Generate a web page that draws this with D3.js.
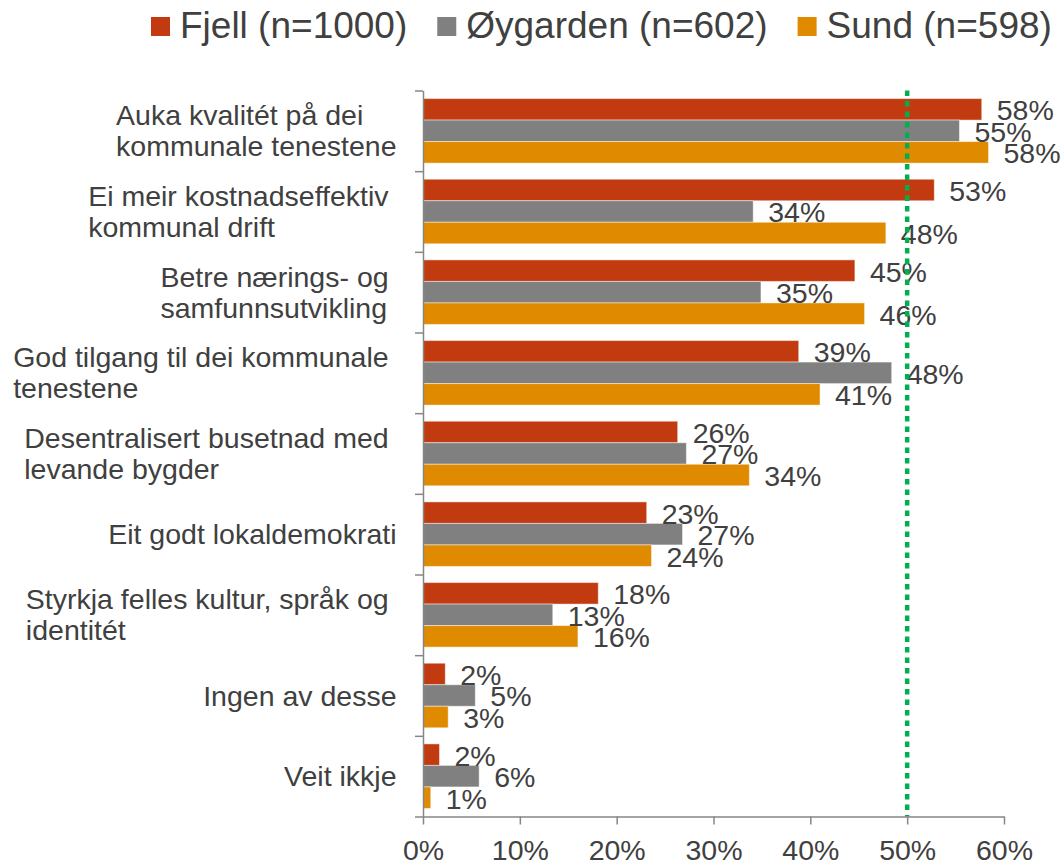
<!DOCTYPE html>
<html>
<head>
<meta charset="utf-8">
<script src="https://cdn.jsdelivr.net/npm/d3@7"></script>
<style>
  body { margin: 0; background: #fff; }
  text { font-family: "Liberation Sans", Arial, sans-serif; fill: #404040; }
</style>
</head>
<body>
<div id="chart"></div>
<script>
// data
var categories = ["Auka kvalitét", "Kostnadseffektiv", "Nærings", "Tilgang", "Desentralisert",
                  "Lokaldemokrati", "Kultur", "Ingen", "Veit ikkje"];
var categoryLines = [
  ["Auka kvalitét på dei", "kommunale tenestene"],
  ["Ei meir kostnadseffektiv", "kommunal drift"],
  ["Betre nærings- og", "samfunnsutvikling"],
  ["God tilgang til dei kommunale", "tenestene"],
  ["Desentralisert busetnad med", "levande bygder"],
  ["Eit godt lokaldemokrati"],
  ["Styrkja felles kultur, språk og", "identitét"],
  ["Ingen av desse"],
  ["Veit ikkje"]
];
var seriesNames = ["Fjell (n=1000)", "Øygarden (n=602)", "Sund (n=598)"];
var seriesColors = ["#c23a10", "#808080", "#e08a00"];
var fjell     = [57.7, 52.8, 44.6, 38.8, 26.3, 23.1, 18.1, 2.3, 1.7];
var oygarden  = [55.4, 34.1, 34.9, 48.4, 27.2, 26.8, 13.4, 5.4, 5.8];
var sund      = [58.4, 47.8, 45.6, 41.0, 33.7, 23.6, 16.0, 2.6, 0.8];
var xTicks = [0, 10, 20, 30, 40, 50, 60];
var refLine = 50;

var values = [fjell, oygarden, sund];

var width = 1061, height = 865;
var svg = d3.select("#chart").append("svg")
    .attr("width", width)
    .attr("height", height);

var x = d3.scaleLinear().domain([0, 60]).range([423, 1004]);
var y = d3.scaleBand().domain(categories).range([90.5, 816.5])
    .paddingInner(0.2).paddingOuter(0.1);
var ySub = d3.scaleBand().domain(d3.range(3)).range([0, y.bandwidth()]);

// bars
var groups = svg.selectAll("g.cat")
    .data(categories)
    .enter().append("g")
    .attr("class", "cat")
    .attr("transform", function(d) { return "translate(0," + y(d) + ")"; });

groups.each(function(c, ci) {
  var g = d3.select(this);
  var rows = values.map(function(s, si) { return {s: si, v: s[ci]}; });
  g.selectAll("rect")
    .data(rows)
    .enter().append("rect")
    .attr("x", x(0))
    .attr("y", function(d) { return ySub(d.s); })
    .attr("width", function(d) { return x(d.v) - x(0); })
    .attr("height", ySub.bandwidth())
    .attr("fill", function(d) { return seriesColors[d.s]; })
    .attr("stroke", "#ffffff")
    .attr("stroke-opacity", 0.45)
    .attr("stroke-width", 1);
});

// reference line at 50%
svg.append("line")
  .attr("x1", x(refLine)).attr("x2", x(refLine))
  .attr("y1", 90.5).attr("y2", 816.5)
  .attr("stroke", "#00b050")
  .attr("stroke-width", 4.5)
  .attr("stroke-dasharray", "5.5,5");

// value labels
groups.each(function(c, ci) {
  var g = d3.select(this);
  var rows = values.map(function(s, si) { return {s: si, v: s[ci]}; });
  g.selectAll("text.val")
    .data(rows)
    .enter().append("text")
    .attr("class", "val")
    .attr("x", function(d) { return x(d.v) + 15; })
    .attr("y", function(d) { return ySub(d.s) + ySub.bandwidth() / 2 + 11; })
    .attr("font-size", "28.5px")
    .text(function(d) { return Math.round(d.v) + "%"; });
});

// x axis
var xAxis = d3.axisBottom(x)
    .tickValues(xTicks)
    .tickFormat(function(d) { return d + "%"; })
    .tickSize(8)
    .tickSizeOuter(0);
var gx = svg.append("g")
    .attr("transform", "translate(0,816.5)")
    .call(xAxis);
gx.select(".domain").attr("stroke", "#868686").attr("stroke-width", 1.5);
gx.selectAll(".tick line").attr("stroke", "#868686").attr("stroke-width", 1.5);
gx.selectAll(".tick text")
    .attr("y", 43.5).attr("dy", 0)
    .attr("font-size", "28.5px")
    .attr("fill", "#404040");

// y axis, ticks between categories
var yb = d3.scaleLinear().domain([0, categories.length]).range([90.5, 816.5]);
var yAxis = d3.axisLeft(yb)
    .tickValues(d3.range(categories.length + 1))
    .tickFormat("")
    .tickSize(8)
    .tickSizeOuter(0);
var gy = svg.append("g")
    .attr("transform", "translate(423,0)")
    .call(yAxis);
gy.select(".domain").attr("stroke", "#868686").attr("stroke-width", 1.5);
gy.selectAll(".tick line").attr("stroke", "#868686").attr("stroke-width", 1.5);

// category labels: block right-aligned, lines left-aligned
var lineH = 31;
categories.forEach(function(c, ci) {
  var lines = categoryLines[ci];
  var cy = y(c) + y.bandwidth() / 2;
  var t = svg.append("text").attr("font-size", "28.5px");
  var maxW = 0;
  lines.forEach(function(l, li) {
    var s = li < lines.length - 1 ? l + "\u00a0" : l;
    var ts = t.append("tspan").text(s);
    maxW = Math.max(maxW, ts.node().getComputedTextLength());
  });
  var left = 396.5 - maxW;
  t.selectAll("tspan")
    .attr("x", left)
    .attr("y", function(d, li) { return cy + (li - (lines.length - 1) / 2) * lineH + 10; });
});

// legend
var lx = 151;
seriesNames.forEach(function(name, i) {
  svg.append("rect")
    .attr("x", lx).attr("y", 17)
    .attr("width", 19).attr("height", 19)
    .attr("fill", seriesColors[i]);
  var t = svg.append("text")
    .attr("x", lx + 29).attr("y", 37.5)
    .attr("font-size", "37px")
    .text(name);
  lx = lx + 29 + t.node().getComputedTextLength() + 30;
});
</script>
</body>
</html>
